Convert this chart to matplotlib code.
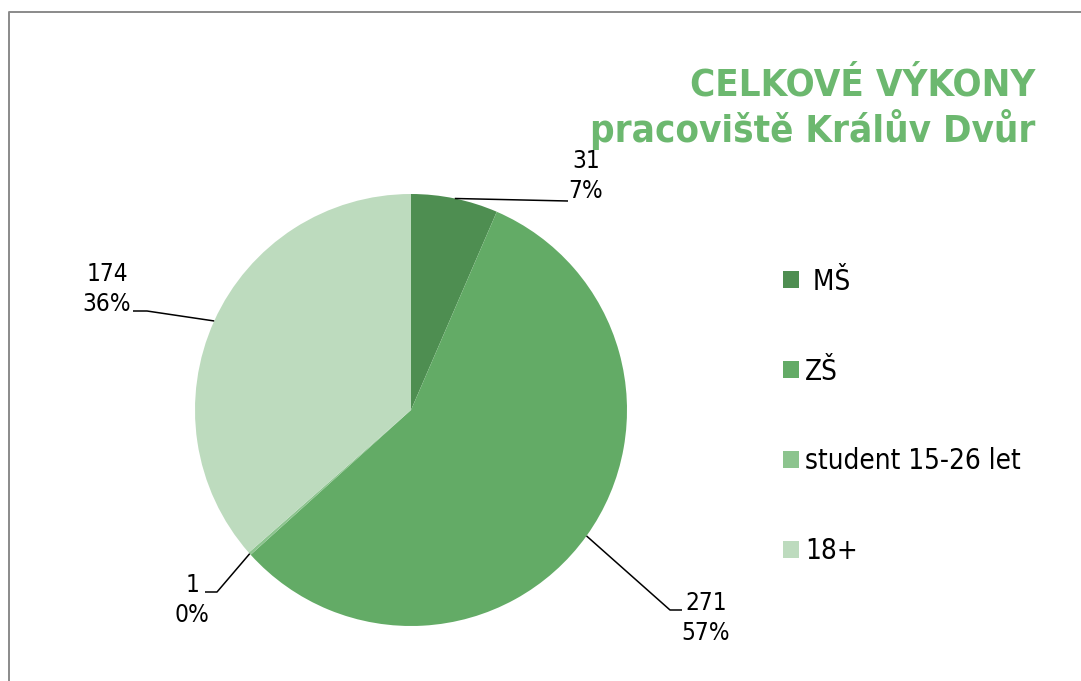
import matplotlib
matplotlib.use('Agg')
import matplotlib.pyplot as plt
from matplotlib.lines import Line2D
import numpy as np

# data
categories = [' MŠ', 'ZŠ', 'student 15-26 let', '18+']
counts = [31, 271, 1, 174]
percents = ['7%', '57%', '0%', '36%']
colors = ['#4e8e51', '#63ab66', '#8cc48e', '#bddbbe']

W, H = 1081, 681
plt.rcParams['font.family'] = ['DejaVu Sans']
plt.rcParams['font.stretch'] = 'condensed'

fig = plt.figure(figsize=(W / 100, H / 100), dpi=100)
ax = fig.add_axes([0, 0, 1, 1])

cx, cy, r = 411, H - 410, 216
wedges, _ = ax.pie(counts, colors=colors, startangle=90, counterclock=False,
                   radius=r, center=(cx, cy), wedgeprops=dict(linewidth=0))
ax.set_xlim(0, W)
ax.set_ylim(0, H)
ax.set_aspect('equal')
ax.axis('off')

# label positions (px from top-left): text centre x, last baseline y, leader path
label_pos = [(586, 198), (706, 640), (192, 622), (107, 311)]
leader_pts = [[(568, 201)],
              [(670, 610), (682, 610)],
              [(217, 592), (205, 592)],
              [(147, 311), (133, 311)]]

for w, n, p, (tx, ty), pts in zip(wedges, counts, percents, label_pos, leader_pts):
    ang = np.deg2rad((w.theta1 + w.theta2) / 2)
    ax0 = cx + r * np.cos(ang)
    ay0 = cy + r * np.sin(ang)
    xs = [ax0] + [q[0] for q in pts]
    ys = [ay0] + [H - q[1] for q in pts]
    ax.plot(xs, ys, color='black', lw=1.1, solid_capstyle='butt')
    ax.text(tx, H - ty, f'{n}\n{p}', ha='center', va='baseline',
            multialignment='center', fontsize=17.5, linespacing=1.3, color='black')

# title
fig.text(1035 / W, 1 - 142 / H, 'CELKOVÉ VÝKONY\npracoviště Králův Dvůr',
         ha='right', va='baseline', multialignment='right', fontsize=27.5,
         fontweight='bold', color='#6cb86f', linespacing=1.18)

# legend
fig.legend(wedges, categories, loc='center left',
           bbox_to_anchor=(783 / W, 1 - 416.5 / H), frameon=False,
           fontsize=20, handlelength=0.575, handleheight=0.575,
           handletextpad=0.22, labelspacing=2.23, borderpad=0, borderaxespad=0)

# chart border (left and top only visible)
fig.add_artist(Line2D([8.5 / W, 8.5 / W, 1], [0, 1 - 11.5 / H, 1 - 11.5 / H],
                      transform=fig.transFigure, color='#8a8a8a', lw=1.4))

fig.savefig('out.png', dpi=100)
